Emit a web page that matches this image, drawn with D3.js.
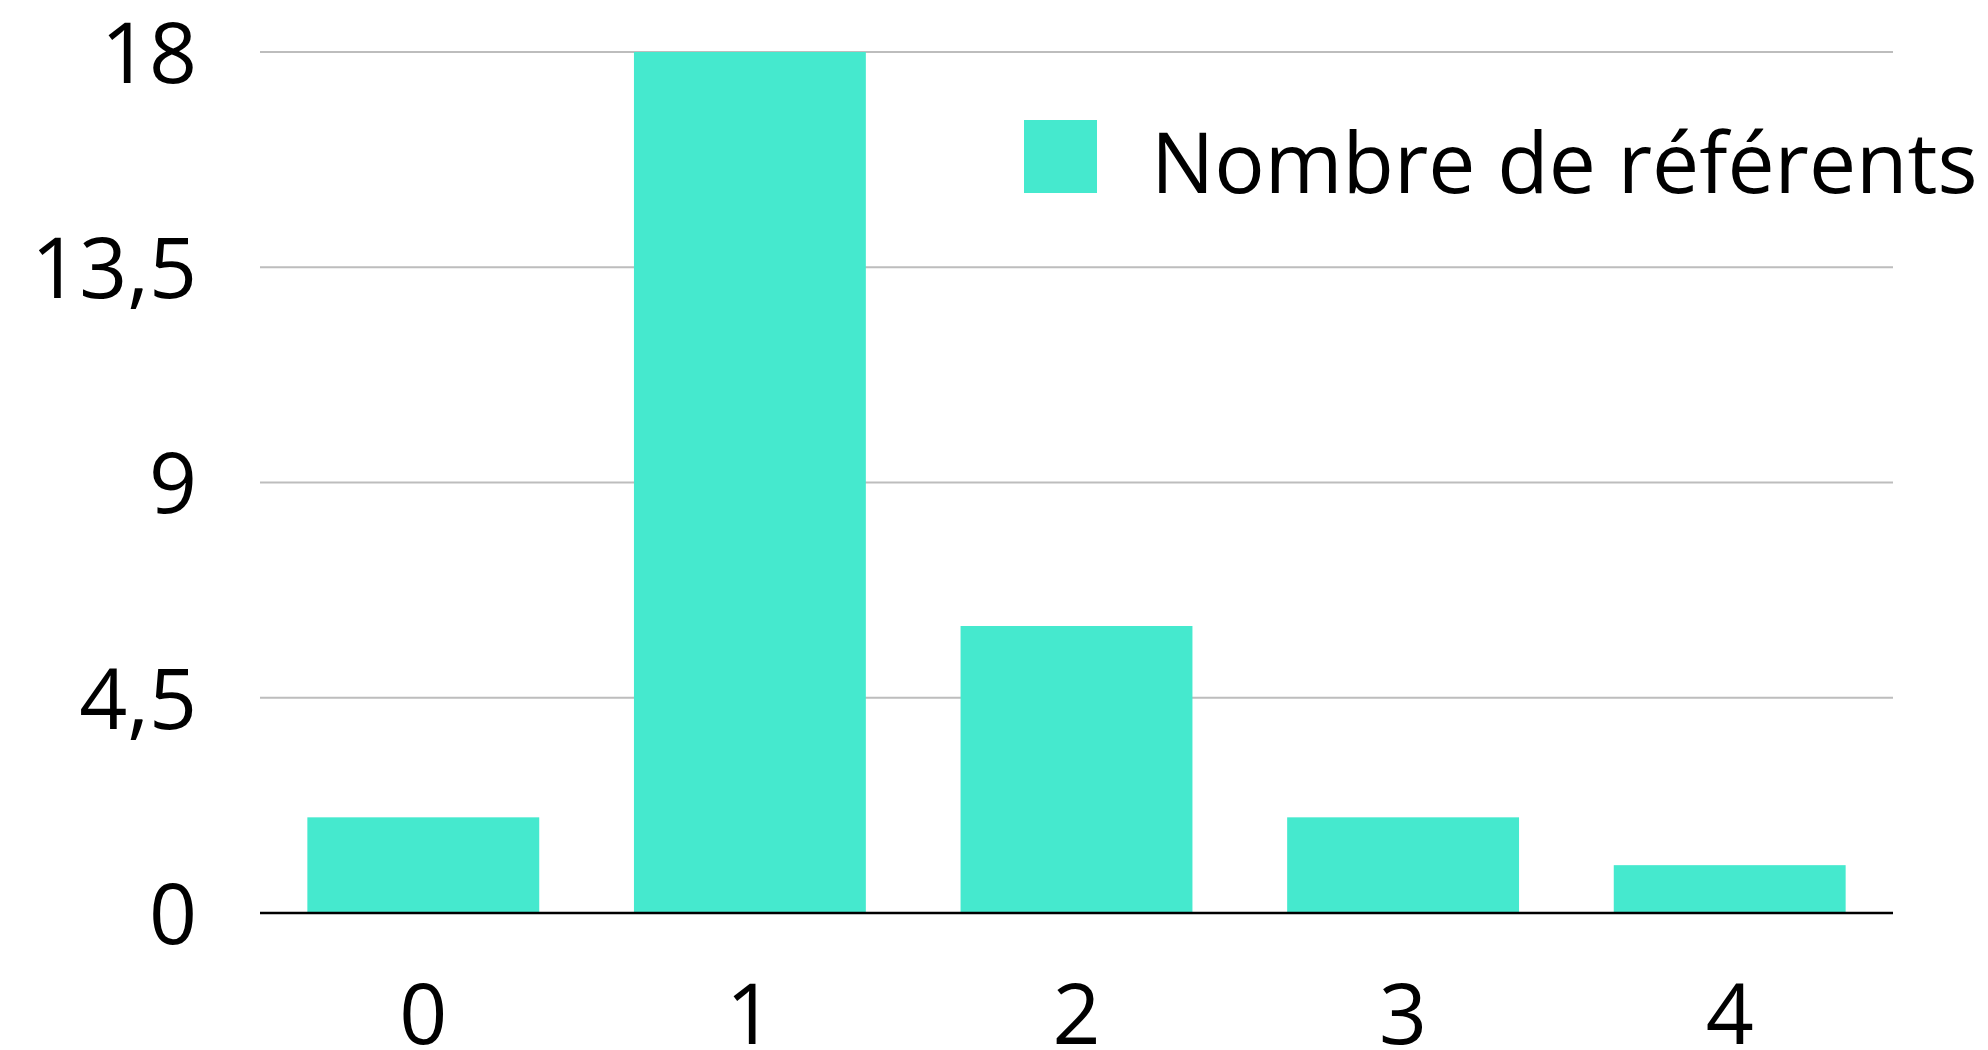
<!DOCTYPE html>
<html><head><meta charset="utf-8">
<script src="https://cdn.jsdelivr.net/npm/d3@7"></script>
<style>html,body{margin:0;padding:0;background:#fff;}svg{display:block;}</style>
</head><body>
<script>
const categories = ["0","1","2","3","4"];
const values = [2,18,6,2,1];
const yTicks = [0,4.5,9,13.5,18];
const yTickLabels = ["0","4,5","9","13,5","18"];
const seriesName = "Nombre de référents";

const W=1988,H=1050;
const m={left:260,right:1893,top:52,bottom:913};
const font="'Open Sans', sans-serif";
const svg=d3.select("body").append("svg").attr("width",W).attr("height",H);

const x=d3.scaleBand().domain(categories).range([m.left,m.right]).paddingInner(0.29).paddingOuter(0.145);
const y=d3.scaleLinear().domain([0,18]).range([m.bottom,m.top]);

// gridlines
svg.append("g").selectAll("line").data(yTicks.filter(d=>d>0)).join("line")
  .attr("x1",m.left).attr("x2",m.right).attr("y1",d=>y(d)).attr("y2",d=>y(d))
  .attr("stroke","#bdbdbd").attr("stroke-width",2);

// bars
svg.append("g").selectAll("rect").data(values).join("rect")
  .attr("x",(d,i)=>x(categories[i])).attr("width",x.bandwidth())
  .attr("y",d=>y(d)).attr("height",d=>y(0)-y(d)).attr("fill","#45E9CE");

// baseline
svg.append("line").attr("x1",m.left).attr("x2",m.right).attr("y1",y(0)).attr("y2",y(0))
  .attr("stroke","#000").attr("stroke-width",2.5);

// y axis labels
const yAxis=d3.axisLeft(y).tickValues(yTicks).tickFormat((d,i)=>yTickLabels[i]).tickSize(0).tickPadding(0);
const yg=svg.append("g").attr("transform",`translate(197,0)`).call(yAxis);
yg.select(".domain").remove();
yg.selectAll("text").attr("font-family",font).attr("font-size",84).attr("fill","#000").attr("dy","0.36em");

// x axis labels
const xAxis=d3.axisBottom(x).tickSize(0).tickPadding(0);
const xg=svg.append("g").attr("transform",`translate(0,1044)`).call(xAxis);
xg.select(".domain").remove();
xg.selectAll("text").attr("font-family",font).attr("font-size",84).attr("fill","#000").attr("dy",0);

// legend
const lg=svg.append("g");
lg.append("rect").attr("x",1024).attr("y",120).attr("width",73).attr("height",73).attr("fill","#45E9CE");
lg.append("text").attr("x",1151).attr("y",193).attr("font-family",font).attr("font-size",84)
  .attr("fill","#000").text(seriesName);
</script>
</body></html>
